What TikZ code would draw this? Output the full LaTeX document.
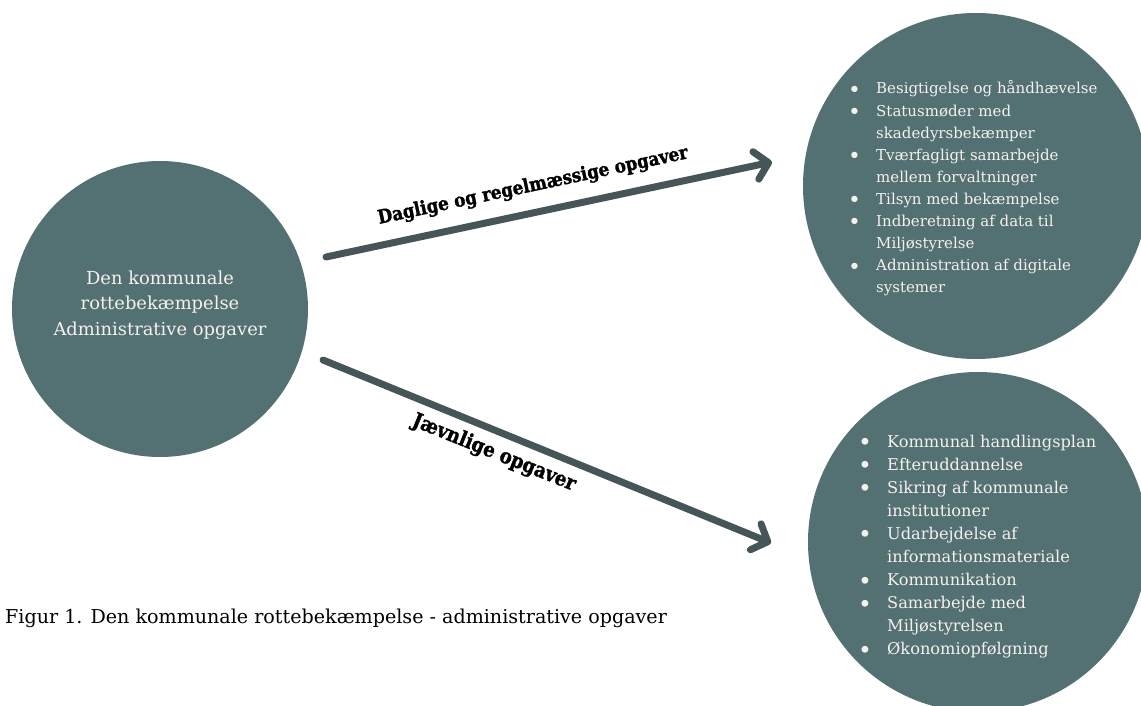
\documentclass[tikz,border=0pt]{standalone}
\usepackage{fontspec}
\usepackage{graphicx}
\setmainfont{DejaVu Serif}
\newfontfamily\heavyfont{DejaVu Serif}[FakeStretch=0.88, FakeBold=1.5]
\usetikzlibrary{arrows.meta}
\definecolor{circfill}{HTML}{537073}
\definecolor{arrowcol}{HTML}{465658}
\definecolor{lighttext}{HTML}{F5F1EC}
\newcommand\bul{\raisebox{-0.42ex}{\scalebox{1.45}{•}}}
\begin{document}
\begin{tikzpicture}[x=1pt,y=-1pt,
  bigcirc/.style={circle, fill=circfill, inner sep=0pt},
  conn/.style={draw=arrowcol, line width=7pt, line cap=round,
    -{Straight Barb[length=13pt,width=28pt,round]}},
  arrowlabel/.style={text=black, inner sep=0pt},
  listtext/.style={text=lighttext, inner sep=0pt, anchor=base west}]
\useasboundingbox (0,0) rectangle (1141,706);
\node[bigcirc, minimum size=296pt] (main) at (160,309) {};
\node[bigcirc, minimum size=346pt] (daily) at (976,186) {};
\node[bigcirc, minimum size=340pt] (periodic) at (978,542) {};

\node[text=lighttext, inner sep=0pt, anchor=base] (maintext) at (160,284)
  {\fontsize{17.9}{25.5}\selectfont\begin{tabular}[t]{@{}c@{}}Den kommunale\\ rottebekæmpelse\\ Administrative opgaver\end{tabular}};

\node[listtext] (dailylist) at (848,94)
  {\fontsize{15}{22.1}\selectfont\begin{tabular}[t]{@{}p{28pt}@{}l@{}}
\bul&Besigtigelse og håndhævelse\\
\bul&Statusmøder med\\
&skadedyrsbekæmper\\
\bul&Tværfagligt samarbejde\\
&mellem forvaltninger\\
\bul&Tilsyn med bekæmpelse\\
\bul&Indberetning af data til\\
&Miljøstyrelse\\
\bul&Administration af digitale\\
&systemer
\end{tabular}};

\node[listtext] (periodiclist) at (858,447)
  {\fontsize{16.2}{23.1}\selectfont\begin{tabular}[t]{@{}p{29pt}@{}l@{}}
\bul&Kommunal handlingsplan\\
\bul&Efteruddannelse\\
\bul&Sikring af kommunale\\
&institutioner\\
\bul&Udarbejdelse af\\
&informationsmateriale\\
\bul&Kommunikation\\
\bul&Samarbejde med\\
&Miljøstyrelsen\\
\bul&Økonomiopfølgning
\end{tabular}};

\coordinate (d1) at (326,257);
\coordinate (d2) at (772,162);
\coordinate (p1) at (323,360);
\coordinate (p2) at (771,543);
\draw[conn] (d1) -- (d2);
\draw[conn] (p1) -- (p2);

\node[arrowlabel, rotate=12] (dailylabel) at (533,186)
  {\heavyfont\bfseries\fontsize{19}{19}\selectfont Daglige og regelmæssige opgaver};
\node[arrowlabel, rotate=-22] (periodiclabel) at (494,453)
  {\heavyfont\bfseries\fontsize{20.5}{20.5}\selectfont Jævnlige opgaver};

\node[anchor=base west, inner sep=0pt] (caption) at (5,623)
  {\fontsize{19.1}{22}\selectfont Figur 1. Den kommunale rottebekæmpelse - administrative opgaver};
\end{tikzpicture}
\end{document}
